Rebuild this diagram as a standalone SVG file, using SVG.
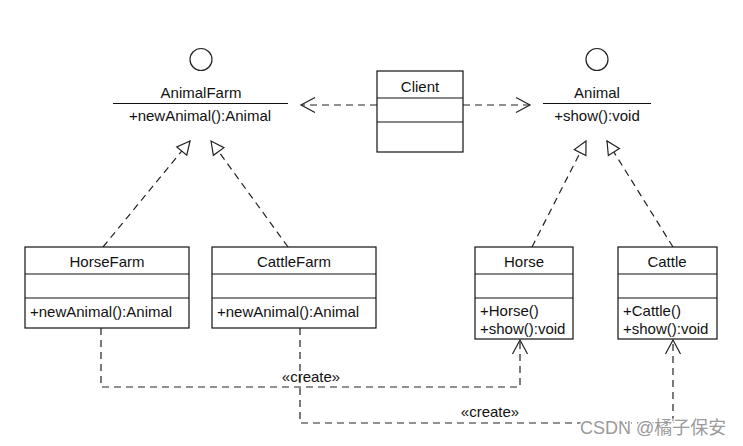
<svg xmlns="http://www.w3.org/2000/svg" width="743" height="446" viewBox="0 0 743 446">
<style>
text{font-family:"Liberation Sans",Arial,sans-serif;font-size:15px;fill:#111}
.c{text-anchor:middle}
.box{fill:#fff;stroke:#111;stroke-width:1.2}
.sep{stroke:#111;stroke-width:1.2}
.dash{fill:none;stroke:#222;stroke-width:1.2;stroke-dasharray:7 5}
.wm{font-size:18px;fill:#9a9a9a;stroke:#fff;stroke-width:3;paint-order:stroke;font-family:"Liberation Sans","Noto Sans CJK SC",sans-serif}
</style>
<defs>
<marker id="tri" markerUnits="userSpaceOnUse" markerWidth="20" markerHeight="20" viewBox="-16 -10 20 20" refX="0" refY="0" orient="auto">
<path d="M0,0 L-13,-6.5 L-13,6.5 Z" fill="#fff" stroke="#222" stroke-width="1.2"/>
</marker>
<marker id="open" markerUnits="userSpaceOnUse" markerWidth="20" markerHeight="20" viewBox="-16 -10 20 20" refX="0" refY="0" orient="auto">
<path d="M-14,-7.5 L0,0 L-14,7.5" fill="none" stroke="#222" stroke-width="1.2"/>
</marker>
</defs>
<rect width="743" height="446" fill="#fff"/>
<g id="connectors">
<line class="dash" x1="377" y1="105" x2="301" y2="105" marker-end="url(#open)"/>
<line class="dash" x1="463" y1="105" x2="530" y2="105" marker-end="url(#open)"/>
<line class="dash" x1="103" y1="247" x2="190" y2="141" marker-end="url(#tri)"/>
<line class="dash" x1="288" y1="247" x2="211" y2="141" marker-end="url(#tri)"/>
<line class="dash" x1="532" y1="247" x2="586" y2="141" marker-end="url(#tri)"/>
<line class="dash" x1="673" y1="247" x2="607" y2="141" marker-end="url(#tri)"/>
<polyline class="dash" points="101,328 101,387 520,387 520,340" marker-end="url(#open)"/>
<polyline class="dash" points="300,328 300,423 673,423 673,340" marker-end="url(#open)"/>
<text class="c" x="311" y="382">«create»</text>
<text class="c" x="490" y="417">«create»</text>
</g>
<g id="AnimalFarm">
<circle cx="201" cy="59.5" r="11" fill="#fff" stroke="#222" stroke-width="1.2"/>
<text class="c" x="201" y="98">AnimalFarm</text>
<line class="sep" x1="113" y1="103.5" x2="288" y2="103.5"/>
<text class="c" x="200" y="121">+newAnimal():Animal</text>
</g>
<g id="Animal">
<circle cx="597" cy="59.5" r="11" fill="#fff" stroke="#222" stroke-width="1.2"/>
<text class="c" x="597" y="98">Animal</text>
<line class="sep" x1="543" y1="103.5" x2="651" y2="103.5"/>
<text class="c" x="597" y="121">+show():void</text>
</g>
<g id="Client">
<rect class="box" x="377" y="71" width="86" height="81"/>
<line class="sep" x1="377" y1="98" x2="463" y2="98"/>
<line class="sep" x1="377" y1="122" x2="463" y2="122"/>
<text class="c" x="420" y="92">Client</text>
</g>
<g id="HorseFarm">
<rect class="box" x="25" y="247" width="164" height="81"/>
<line class="sep" x1="25" y1="274" x2="189" y2="274"/>
<line class="sep" x1="25" y1="298" x2="189" y2="298"/>
<text class="c" x="107" y="267">HorseFarm</text>
<text x="30" y="317">+newAnimal():Animal</text>
</g>
<g id="CattleFarm">
<rect class="box" x="212" y="247" width="164" height="81"/>
<line class="sep" x1="212" y1="274" x2="376" y2="274"/>
<line class="sep" x1="212" y1="298" x2="376" y2="298"/>
<text class="c" x="294" y="267">CattleFarm</text>
<text x="217" y="317">+newAnimal():Animal</text>
</g>
<g id="Horse">
<rect class="box" x="475" y="247" width="98" height="92"/>
<line class="sep" x1="475" y1="274" x2="573" y2="274"/>
<line class="sep" x1="475" y1="298" x2="573" y2="298"/>
<text class="c" x="524" y="267">Horse</text>
<text x="480" y="316">+Horse()</text>
<text x="480" y="334">+show():void</text>
</g>
<g id="Cattle">
<rect class="box" x="618" y="247" width="99" height="92"/>
<line class="sep" x1="618" y1="274" x2="717" y2="274"/>
<line class="sep" x1="618" y1="298" x2="717" y2="298"/>
<text class="c" x="667" y="267">Cattle</text>
<text x="623" y="316">+Cattle()</text>
<text x="623" y="334">+show():void</text>
</g>
<text class="wm" x="580" y="434">CSDN @橘子保安</text>
</svg>
